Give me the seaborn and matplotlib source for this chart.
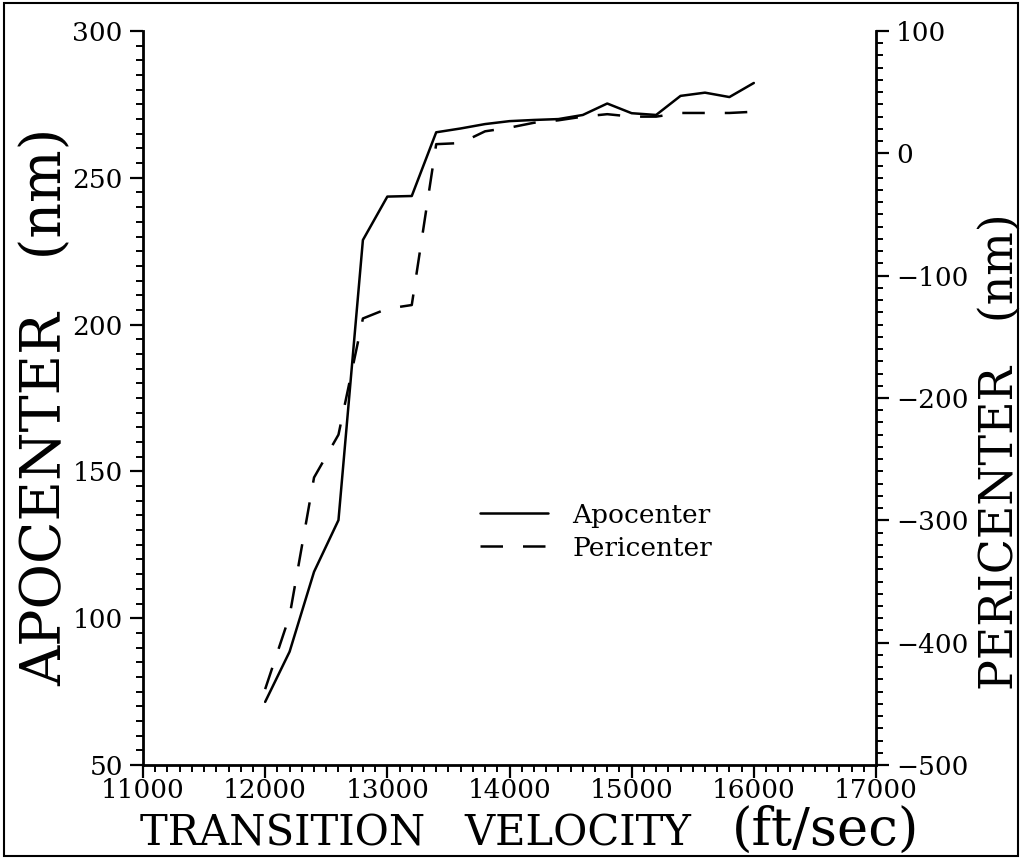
import matplotlib
matplotlib.use("Agg")
import matplotlib.pyplot as plt
import seaborn as sns
import pandas as pd
from matplotlib.ticker import MultipleLocator
from matplotlib.patches import Rectangle

velocity = [12000, 12200, 12400, 12600, 12800, 13000, 13200, 13400, 13600, 13800,
            14000, 14200, 14400, 14600, 14800, 15000, 15200, 15400, 15600, 15800, 16000]
apocenter = [71.5, 88.6, 115.8, 133.4, 228.8, 243.6, 243.8, 265.5, 266.8, 268.3,
             269.3, 269.7, 270.0, 271.4, 275.3, 272.0, 271.4, 277.9, 279.0, 277.5, 282.3]
pericenter = [-438, -378, -265, -230, -135, -127, -124, 7.5, 8.4, 18.0,
              21.0, 25.0, 27.0, 30.0, 32.0, 30.0, 30.0, 33.0, 33.0, 33.0, 34.0]

df = pd.DataFrame({"velocity": velocity, "apocenter": apocenter, "pericenter": pericenter})

sns.set_style("ticks")
plt.rcParams["font.family"] = ["DejaVu Serif"]
for k in ["text.color", "axes.labelcolor", "xtick.color", "ytick.color", "axes.edgecolor"]:
    plt.rcParams[k] = "black"

fig = plt.figure(figsize=(10.24, 8.61), dpi=100)
ax = fig.add_axes([143 / 1024, (861 - 765) / 861, (876 - 143) / 1024, 734 / 861])
ax2 = ax.twinx()

sns.lineplot(data=df, x="velocity", y="apocenter", ax=ax, color="black",
             linewidth=1.8, label="Apocenter", legend=False)
sns.lineplot(data=df, x="velocity", y="pericenter", ax=ax2, color="black",
             linewidth=1.8, label="Pericenter", legend=False)
ax2.lines[0].set_dashes((9, 8))

ax.set_xlim(11000, 17000)
ax.set_ylim(50, 300)
ax2.set_ylim(-500, 100)

ax.xaxis.set_major_locator(MultipleLocator(1000))
ax.xaxis.set_minor_locator(MultipleLocator(100))
ax.yaxis.set_major_locator(MultipleLocator(50))
ax.yaxis.set_minor_locator(MultipleLocator(5))
ax2.yaxis.set_major_locator(MultipleLocator(100))
ax2.yaxis.set_minor_locator(MultipleLocator(10))

for a in (ax, ax2):
    a.spines["top"].set_visible(False)
    for s in a.spines.values():
        s.set_linewidth(2)
    a.tick_params(which="major", length=9.5, width=1.6, labelsize=19, direction="out", pad=5)
    a.tick_params(which="minor", length=5, width=1.4, direction="out")
ax.tick_params(axis="x", which="major", pad=0)
ax.spines["right"].set_visible(False)
ax2.spines["left"].set_visible(False)
ax2.spines["bottom"].set_visible(False)

ax.set_xlabel("TRANSITION   VELOCITY", fontsize=30)
ax.text((826 - 143) / 733, (765 - 845) / 734, "(ft/sec)", transform=ax.transAxes,
        fontsize=38, ha="center", va="baseline")
ax.set_ylabel("APOCENTER   (nm)", fontsize=40)
ax2.set_ylabel("PERICENTER   (nm)", fontsize=33, rotation=90)

# label positions in axes coordinates
ax.xaxis.set_label_coords((415 - 143) / 733, (765 - 845) / 734)
ax.xaxis.label.set_va("baseline")
ax.yaxis.set_label_coords((46 - 143) / 733, (765 - 407) / 734)
ax2.yaxis.set_label_coords((1000 - 143) / 733, (765 - 452) / 734)
ax.yaxis.label.set_va("center")
ax2.yaxis.label.set_va("center")

h1, l1 = ax.get_legend_handles_labels()
h2, l2 = ax2.get_legend_handles_labels()
leg = ax.legend(h1 + h2, l1 + l2, loc="center left", bbox_to_anchor=(0.427, 0.318),
                frameon=False, fontsize=19, handlelength=2.6, handletextpad=0.9,
                labelspacing=0.3)

fig.patches.append(Rectangle((4 / 1024, 5 / 861), 1014 / 1024, 853 / 861,
                             transform=fig.transFigure, fill=False,
                             edgecolor="black", linewidth=1.5))

fig.savefig("out.png", dpi=100)
